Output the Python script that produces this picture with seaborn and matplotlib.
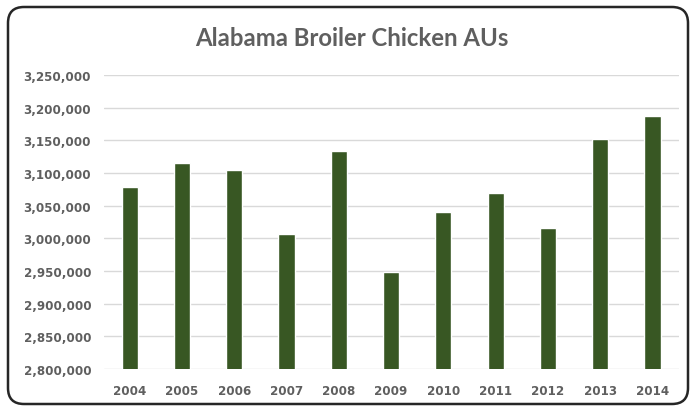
import matplotlib
matplotlib.use("Agg")
import matplotlib.pyplot as plt
from matplotlib.patches import FancyBboxPatch
from matplotlib.transforms import IdentityTransform
from matplotlib.ticker import FuncFormatter
import seaborn as sns
import pandas as pd

# Alabama broiler chicken animal units by year
years = ["2004", "2005", "2006", "2007", "2008", "2009",
         "2010", "2011", "2012", "2013", "2014"]
animal_units = [3079000, 3116000, 3104000, 3007000, 3134000, 2948000,
                3041000, 3069000, 3016000, 3152000, 3188000]
y_ticks = [2800000, 2850000, 2900000, 2950000, 3000000,
           3050000, 3100000, 3150000, 3200000, 3250000]

df = pd.DataFrame({"year": years, "au": animal_units})

sns.set_theme(style="white")
plt.rcParams["font.family"] = ["DejaVu Sans"]

text_gray = "#5f5f5f"
bar_green = "#385723"

fig = plt.figure(figsize=(6.91, 4.10), dpi=100)
ax = fig.add_axes([0.150, 0.0976, 0.832, 0.717])

sns.barplot(data=df, x="year", y="au", color=bar_green, width=0.31,
            saturation=1, ax=ax, zorder=3)

ax.set_ylim(y_ticks[0], y_ticks[-1])
ax.set_yticks(y_ticks)
ax.yaxis.set_major_formatter(FuncFormatter(lambda v, _: f"{int(v):,}"))
ax.set_xlim(-0.5, len(years) - 0.5)
ax.grid(axis="y", color="#d9d9d9", linewidth=1.0, zorder=0)
ax.set_axisbelow(True)
for s in ax.spines.values():
    s.set_visible(False)
ax.set_xlabel("")
ax.set_ylabel("")
ax.tick_params(axis="both", length=0, labelsize=8.6, colors=text_gray)
ax.tick_params(axis="y", pad=9)
ax.tick_params(axis="x", pad=11)
for lbl in ax.get_xticklabels() + ax.get_yticklabels():
    lbl.set_fontweight("bold")

fig.text(0.509, 1 - 39 / 410, "Alabama Broiler Chicken AUs",
         ha="center", va="center", fontsize=17.2, fontweight="bold",
         color=text_gray, family=["Lato", "DejaVu Sans"])

# rounded chart frame
frame = FancyBboxPatch((8, 5), 680, 397,
                       boxstyle="round,pad=0,rounding_size=16",
                       transform=IdentityTransform(),
                       facecolor="none", edgecolor="#262626", linewidth=1.8)
fig.add_artist(frame)

fig.savefig("out.png", dpi=100, facecolor="white")
